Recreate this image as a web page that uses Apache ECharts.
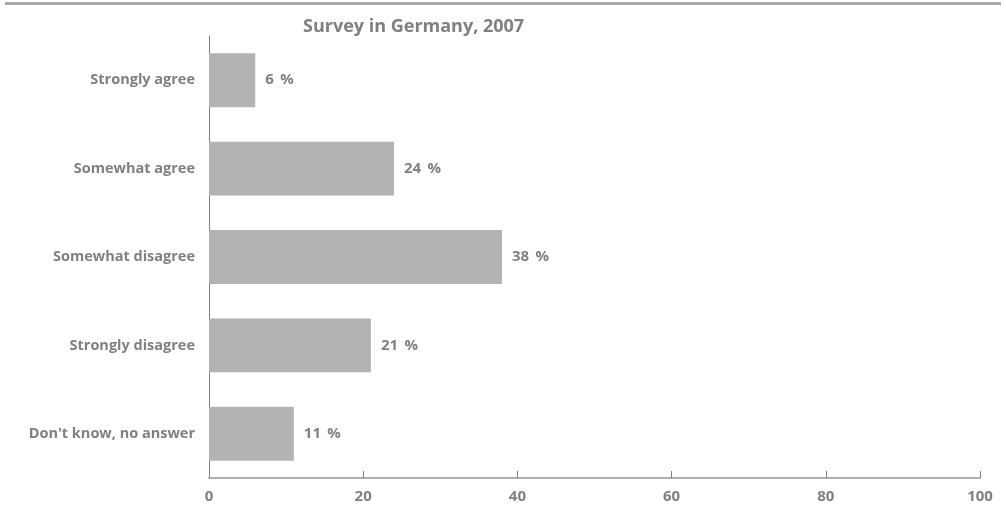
<!DOCTYPE html>
<html><head><meta charset="utf-8">
<script src="https://cdn.jsdelivr.net/npm/echarts@6/dist/echarts.min.js"></script>
<style>html,body{margin:0;padding:0;background:#fff}#c{width:1006px;height:506px}</style>
</head><body><div id="c"></div>
<script>
const categories = ["Strongly agree","Somewhat agree","Somewhat disagree","Strongly disagree","Don't know, no answer"];
const values = [6, 24, 38, 21, 11];
const xTicks = [0, 20, 40, 60, 80, 100];
const titleText = "Survey in Germany, 2007";

const FONT = "'Open Sans', sans-serif";
const TXT = "#808080";
const chart = echarts.init(document.getElementById('c'), null, {renderer:'canvas'});
chart.setOption({
  animation:false,
  backgroundColor:'#fff',
  title:{text:titleText,left:298,top:13,textStyle:{fontFamily:FONT,fontWeight:'bold',fontSize:18,color:TXT}},
  graphic:[{type:'line',shape:{x1:5,y1:3.5,x2:1001,y2:3.5},style:{stroke:'#aaaaaa',lineWidth:3}}],
  grid:{left:209,right:26,top:36,bottom:28},
  xAxis:{type:'value',min:xTicks[0],max:xTicks[xTicks.length-1],interval:20,
    axisLine:{show:true,lineStyle:{color:'#b0b0b0',width:2}},
    axisTick:{show:true,inside:true,length:7,lineStyle:{color:'#808080',width:1}},
    splitLine:{show:false},
    axisLabel:{margin:11,fontFamily:FONT,fontWeight:'bold',fontSize:15,color:TXT}},
  yAxis:{type:'category',data:categories,inverse:true,
    axisLine:{show:true,lineStyle:{color:'#808080',width:1}},
    axisTick:{show:false},
    axisLabel:{margin:14,fontFamily:FONT,fontWeight:'bold',fontSize:14.5,color:TXT}},
  series:[{type:'bar',data:values,barCategoryGap:'39%',
    itemStyle:{color:'#b3b3b4'},
    label:{show:true,position:'right',distance:10,formatter:p=>p.value+'\u2009 %',
      fontFamily:FONT,fontWeight:'bold',fontSize:15,color:TXT}}]
});
</script></body></html>
